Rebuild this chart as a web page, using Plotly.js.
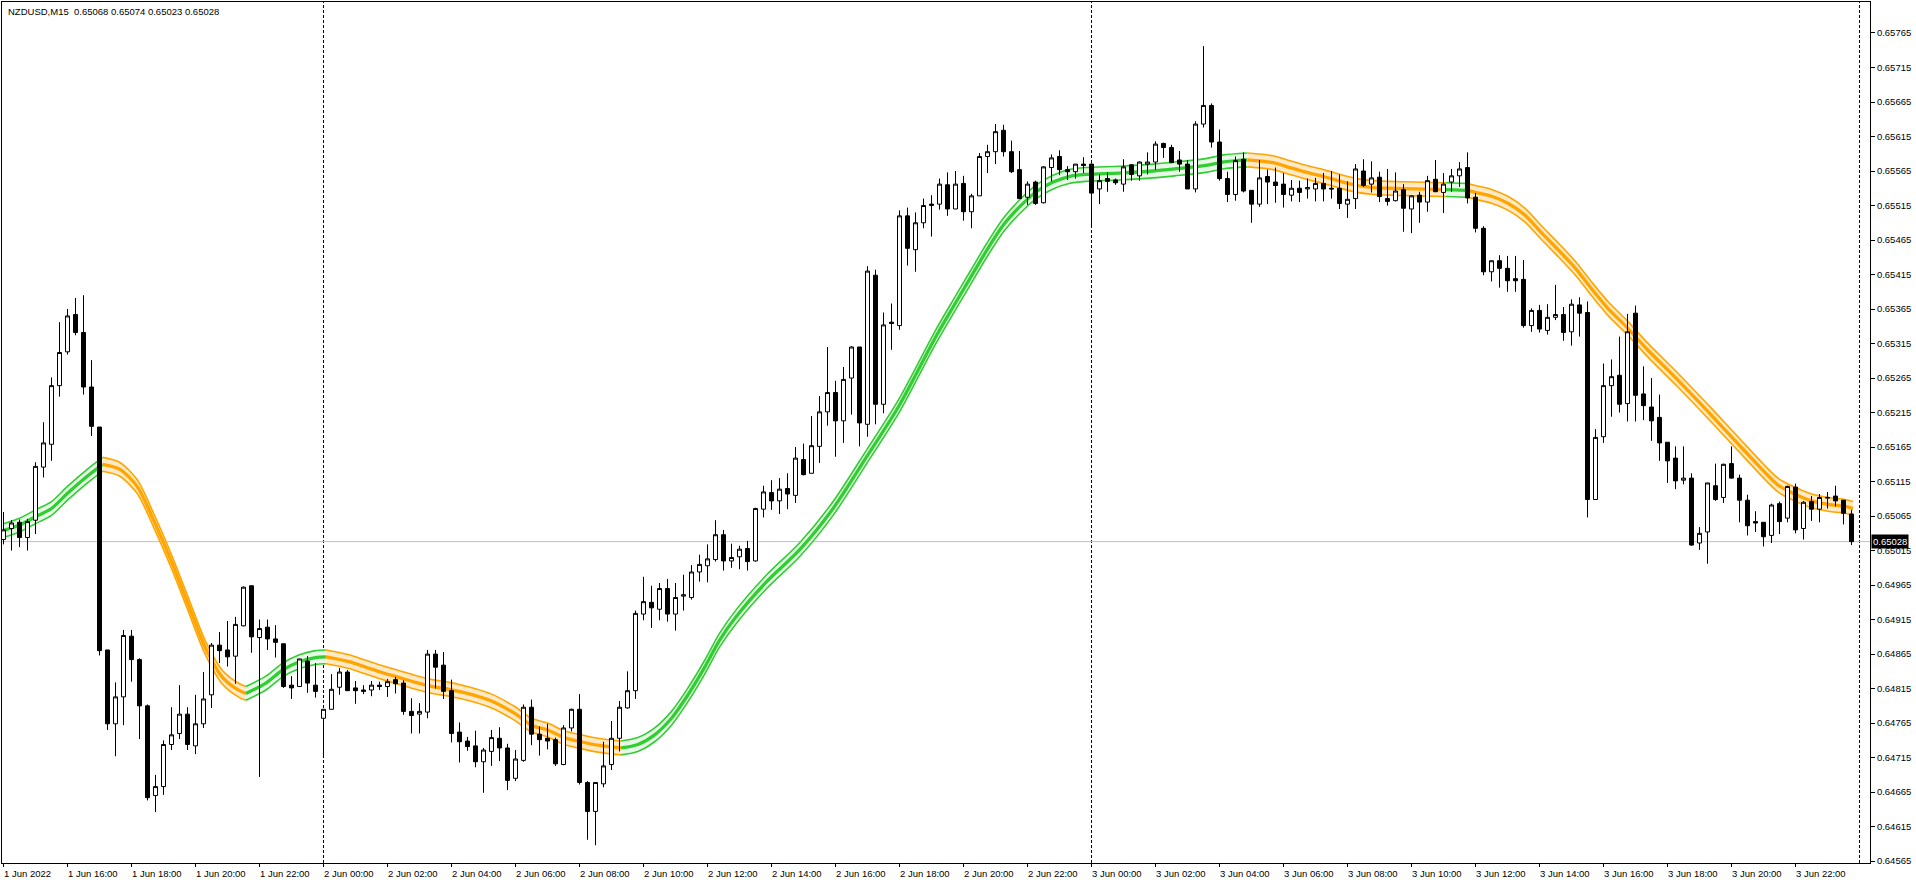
<!DOCTYPE html>
<html>
<head>
<meta charset="utf-8">
<script src="https://cdn.plot.ly/plotly-3.0.1.min.js"></script>
<style>
html,body{margin:0;padding:0;background:#ffffff;overflow:hidden;}
#chart{width:1916px;height:885px;}
</style>
</head>
<body>
<div id="chart"></div>
<script>
// ---------------- DATA ----------------
const symbol = 'NZDUSD';
const timeframe = 'M15';

// 15-minute bars from 1 Jun 2022 14:00 to 3 Jun 2022 23:45 (index 0..231)
const openP = [
0.65031,0.65047,0.65056,0.65034,0.65059,0.65136,0.65169,0.65254,0.65303,0.65357,
0.65331,0.65252,0.65194,0.64871,0.64764,0.64803,0.64891,0.64857,0.64790,0.64660,
0.64673,0.64734,0.64750,0.64778,0.64732,0.64764,0.64806,0.64878,0.64871,0.64862,
0.64906,0.64964,0.64889,0.64904,0.64887,0.64880,0.64820,0.64818,0.64855,0.64820,
0.64772,0.64785,0.64817,0.64839,0.64816,0.64813,0.64813,0.64820,0.64818,0.64828,
0.64823,0.64782,0.64778,0.64781,0.64865,0.64849,0.64812,0.64752,0.64739,0.64732,
0.64709,0.64724,0.64743,0.64729,0.64685,0.64711,0.64788,0.64749,0.64743,0.64741,
0.64705,0.64758,0.64785,0.64679,0.64637,0.64677,0.64705,0.64743,0.64787,0.64812,
0.64923,0.64940,0.64930,0.64960,0.64923,0.64949,0.64947,0.64984,0.64993,0.65002,
0.65038,0.65000,0.65006,0.65018,0.65000,0.65075,0.65099,0.65087,0.65105,0.65095,
0.65147,0.65127,0.65166,0.65216,0.65244,0.65203,0.65265,0.65310,0.65198,0.65414,
0.65227,0.65346,0.65341,0.65500,0.65451,0.65490,0.65515,0.65517,0.65545,0.65510,
0.65547,0.65506,0.65529,0.65586,0.65593,0.65624,0.65593,0.65567,0.65527,0.65549,
0.65519,0.65570,0.65586,0.65567,0.65564,0.65575,0.65575,0.65539,0.65554,0.65552,
0.65546,0.65574,0.65558,0.65575,0.65578,0.65605,0.65599,0.65581,0.65575,0.65539,
0.65633,0.65660,0.65607,0.65554,0.65531,0.65582,0.65537,0.65517,0.65557,0.65549,
0.65546,0.65530,0.65540,0.65539,0.65539,0.65547,0.65540,0.65540,0.65517,0.65525,
0.65565,0.65546,0.65556,0.65525,0.65522,0.65538,0.65510,0.65530,0.65520,0.65553,
0.65534,0.65549,0.65558,0.65570,0.65527,0.65482,0.65419,0.65435,0.65424,0.65409,
0.65408,0.65341,0.65363,0.65334,0.65353,0.65357,0.65332,0.65371,0.65360,0.65089,
0.65180,0.65254,0.65269,0.65228,0.65359,0.65242,0.65223,0.65208,0.65172,0.65149,
0.65117,0.65120,0.65026,0.65042,0.65109,0.65092,0.65141,0.65120,0.65088,0.65057,
0.65056,0.65037,0.65083,0.65062,0.65107,0.65047,0.65086,0.65075,0.65091,0.65094,
0.65088,0.65068
];
const highP = [
0.65071,0.65059,0.65060,0.65061,0.65143,0.65201,0.65266,0.65346,0.65365,0.65381,
0.65385,0.65291,0.65194,0.64871,0.64824,0.64900,0.64900,0.64859,0.64792,0.64690,
0.64740,0.64788,0.64820,0.64788,0.64806,0.64839,0.64881,0.64897,0.64913,0.64919,
0.64963,0.64965,0.64915,0.64915,0.64907,0.64880,0.64833,0.64858,0.64862,0.64852,
0.64785,0.64836,0.64845,0.64842,0.64826,0.64820,0.64826,0.64825,0.64829,0.64832,
0.64827,0.64801,0.64794,0.64871,0.64871,0.64868,0.64828,0.64766,0.64745,0.64754,
0.64729,0.64755,0.64759,0.64735,0.64726,0.64792,0.64799,0.64760,0.64764,0.64744,
0.64762,0.64786,0.64807,0.64681,0.64679,0.64738,0.64768,0.64797,0.64840,0.64928,
0.64977,0.64964,0.64968,0.64974,0.64968,0.64980,0.64994,0.65009,0.65024,0.65059,
0.65045,0.65025,0.65022,0.65029,0.65077,0.65109,0.65117,0.65120,0.65127,0.65165,
0.65170,0.65210,0.65239,0.65310,0.65261,0.65281,0.65311,0.65310,0.65427,0.65422,
0.65360,0.65373,0.65508,0.65512,0.65505,0.65525,0.65530,0.65554,0.65563,0.65565,
0.65558,0.65532,0.65591,0.65603,0.65633,0.65632,0.65609,0.65594,0.65550,0.65551,
0.65572,0.65589,0.65595,0.65572,0.65575,0.65585,0.65576,0.65560,0.65563,0.65554,
0.65582,0.65575,0.65579,0.65592,0.65608,0.65606,0.65603,0.65594,0.65581,0.65637,
0.65746,0.65663,0.65625,0.65564,0.65586,0.65592,0.65537,0.65581,0.65567,0.65570,
0.65562,0.65552,0.65551,0.65554,0.65555,0.65562,0.65565,0.65560,0.65550,0.65575,
0.65582,0.65579,0.65564,0.65568,0.65563,0.65546,0.65530,0.65535,0.65558,0.65581,
0.65562,0.65568,0.65578,0.65592,0.65533,0.65485,0.65435,0.65443,0.65442,0.65442,
0.65436,0.65366,0.65371,0.65372,0.65400,0.65368,0.65379,0.65382,0.65376,0.65191,
0.65286,0.65292,0.65325,0.65358,0.65370,0.65282,0.65265,0.65241,0.65172,0.65166,
0.65166,0.65127,0.65049,0.65113,0.65141,0.65141,0.65166,0.65125,0.65096,0.65072,
0.65056,0.65083,0.65086,0.65109,0.65112,0.65087,0.65094,0.65097,0.65100,0.65109,
0.65088,0.65074
];
const lowP = [
0.65024,0.65015,0.65020,0.65015,0.65039,0.65121,0.65145,0.65238,0.65299,0.65327,
0.65241,0.65181,0.64863,0.64755,0.64717,0.64762,0.64825,0.64742,0.64653,0.64636,
0.64661,0.64726,0.64742,0.64726,0.64720,0.64758,0.64787,0.64852,0.64847,0.64822,
0.64905,0.64867,0.64687,0.64871,0.64860,0.64816,0.64800,0.64818,0.64809,0.64802,
0.64718,0.64785,0.64806,0.64812,0.64793,0.64807,0.64804,0.64813,0.64803,0.64808,
0.64777,0.64750,0.64750,0.64772,0.64815,0.64800,0.64737,0.64708,0.64725,0.64701,
0.64664,0.64703,0.64710,0.64668,0.64681,0.64709,0.64733,0.64718,0.64727,0.64703,
0.64704,0.64753,0.64676,0.64596,0.64588,0.64672,0.64697,0.64724,0.64786,0.64800,
0.64914,0.64903,0.64914,0.64912,0.64899,0.64928,0.64944,0.64970,0.64969,0.64999,
0.64986,0.64990,0.64988,0.64986,0.64999,0.65063,0.65074,0.65068,0.65075,0.65084,
0.65124,0.65127,0.65142,0.65196,0.65151,0.65171,0.65212,0.65166,0.65180,0.65198,
0.65214,0.65306,0.65335,0.65428,0.65419,0.65482,0.65470,0.65509,0.65500,0.65510,
0.65493,0.65482,0.65529,0.65562,0.65575,0.65586,0.65562,0.65525,0.65516,0.65516,
0.65518,0.65550,0.65559,0.65552,0.65554,0.65562,0.65484,0.65517,0.65535,0.65545,
0.65535,0.65551,0.65551,0.65560,0.65567,0.65584,0.65577,0.65564,0.65539,0.65534,
0.65628,0.65599,0.65551,0.65520,0.65522,0.65534,0.65490,0.65513,0.65517,0.65519,
0.65512,0.65521,0.65520,0.65525,0.65521,0.65521,0.65525,0.65510,0.65497,0.65510,
0.65542,0.65534,0.65520,0.65515,0.65521,0.65477,0.65475,0.65490,0.65506,0.65535,
0.65504,0.65535,0.65542,0.65518,0.65476,0.65414,0.65405,0.65396,0.65390,0.65390,
0.65338,0.65332,0.65331,0.65328,0.65349,0.65319,0.65312,0.65325,0.65063,0.65089,
0.65171,0.65209,0.65215,0.65202,0.65202,0.65204,0.65174,0.65145,0.65113,0.65104,
0.65111,0.65022,0.65016,0.64996,0.65087,0.65084,0.65119,0.65056,0.65037,0.65042,
0.65021,0.65026,0.65039,0.65056,0.65040,0.65031,0.65058,0.65056,0.65076,0.65079,
0.65053,0.65023
];
const closeP = [
0.65045,0.65055,0.65034,0.65057,0.65137,0.65171,0.65254,0.65302,0.65355,0.65331,
0.65252,0.65195,0.64870,0.64764,0.64803,0.64892,0.64857,0.64790,0.64657,0.64673,
0.64734,0.64748,0.64778,0.64734,0.64764,0.64800,0.64878,0.64870,0.64861,0.64908,
0.64962,0.64890,0.64902,0.64887,0.64882,0.64818,0.64816,0.64858,0.64823,0.64811,
0.64785,0.64814,0.64839,0.64812,0.64812,0.64811,0.64820,0.64818,0.64825,0.64822,
0.64782,0.64776,0.64782,0.64865,0.64846,0.64811,0.64750,0.64738,0.64731,0.64709,
0.64726,0.64744,0.64729,0.64682,0.64713,0.64788,0.64749,0.64741,0.64739,0.64706,
0.64758,0.64785,0.64679,0.64637,0.64679,0.64703,0.64743,0.64788,0.64812,0.64924,
0.64941,0.64932,0.64960,0.64923,0.64947,0.64951,0.64984,0.64995,0.65003,0.65038,
0.65000,0.65005,0.65017,0.64999,0.65076,0.65100,0.65087,0.65104,0.65097,0.65149,
0.65125,0.65167,0.65216,0.65244,0.65203,0.65263,0.65310,0.65200,0.65420,0.65227,
0.65342,0.65344,0.65500,0.65453,0.65490,0.65515,0.65517,0.65546,0.65510,0.65546,
0.65506,0.65529,0.65586,0.65593,0.65622,0.65593,0.65564,0.65525,0.65546,0.65518,
0.65571,0.65584,0.65567,0.65564,0.65575,0.65573,0.65533,0.65551,0.65550,0.65548,
0.65571,0.65560,0.65578,0.65578,0.65604,0.65599,0.65577,0.65575,0.65539,0.65633,
0.65660,0.65607,0.65554,0.65531,0.65580,0.65536,0.65517,0.65555,0.65549,0.65544,
0.65531,0.65540,0.65534,0.65541,0.65547,0.65539,0.65539,0.65518,0.65524,0.65568,
0.65544,0.65555,0.65528,0.65521,0.65536,0.65511,0.65529,0.65520,0.65551,0.65535,
0.65546,0.65558,0.65568,0.65526,0.65482,0.65419,0.65435,0.65424,0.65406,0.65406,
0.65341,0.65363,0.65336,0.65353,0.65357,0.65331,0.65372,0.65359,0.65089,0.65179,
0.65254,0.65267,0.65227,0.65332,0.65240,0.65225,0.65203,0.65171,0.65145,0.65116,
0.65120,0.65023,0.65040,0.65113,0.65089,0.65140,0.65120,0.65088,0.65051,0.65055,
0.65035,0.65081,0.65057,0.65108,0.65045,0.65085,0.65075,0.65092,0.65092,0.65087,
0.65069,0.65028
];

// Time axis labels (every 8 bars = 2 hours)
const tickBars = [0,8,16,24,32,40,48,56,64,72,80,88,96,104,112,120,128,136,144,152,160,168,176,184,192,200,208,216,224];
const tickLabels = ['1 Jun 2022','1 Jun 16:00','1 Jun 18:00','1 Jun 20:00','1 Jun 22:00',
  '2 Jun 00:00','2 Jun 02:00','2 Jun 04:00','2 Jun 06:00','2 Jun 08:00','2 Jun 10:00','2 Jun 12:00',
  '2 Jun 14:00','2 Jun 16:00','2 Jun 18:00','2 Jun 20:00','2 Jun 22:00',
  '3 Jun 00:00','3 Jun 02:00','3 Jun 04:00','3 Jun 06:00','3 Jun 08:00','3 Jun 10:00','3 Jun 12:00',
  '3 Jun 14:00','3 Jun 16:00','3 Jun 18:00','3 Jun 20:00','3 Jun 22:00'];
const daySeparatorBars = [40, 136, 232];

// Price axis ticks
const priceTicks = [0.65765,0.65715,0.65665,0.65615,0.65565,0.65515,0.65465,0.65415,0.65365,0.65315,
  0.65265,0.65215,0.65165,0.65115,0.65065,0.65015,0.64965,0.64915,0.64865,0.64815,0.64765,0.64715,
  0.64665,0.64615,0.64565];

// Smoothed moving-average band (centre values)
const maBars = [0,2,4,6,8,10.5,12.4,14.5,16.7,18.8,21,23,25.2,27.4,29.5,30.3,32.8,34.9,37,39,40.3,
  43.2,45.3,47.4,49.5,51.5,53.6,55.7,58,61,63.9,66,68,70.1,72.2,74.3,77.2,79.3,81.4,83.5,85.5,87.6,
  89.5,91.5,95.4,99.5,103.7,107.9,112,116.4,118.7,120.8,122.9,125,127,129.1,131.2,133.2,135.3,139.5,
  143.7,146.4,150.3,152.4,155.5,158.7,160.8,162.9,165,167.1,169.2,171.3,173.3,176.3,180.3,183,184,
  186.1,188.1,190.2,192.3,194.4,196.5,198.6,200.7,202.8,205.5,209.3,213.5,217.6,221.8,223.9,226,
  228.1,230.2,231.2];
const maValues = [0.65044,0.65052,0.65064,0.65076,0.65098,0.65123,0.65140,0.65133,0.65108,0.65058,
  0.64999,0.64940,0.64875,0.64831,0.64812,0.64808,0.64823,0.64842,0.64854,0.64860,0.64861,
  0.64854,0.64846,0.64838,0.64831,0.64824,0.64818,0.64814,0.64808,0.64797,0.64779,0.64762,0.64755,
  0.64744,0.64738,0.64733,0.64729,0.64734,0.64748,0.64772,0.64805,0.64845,
  0.64885,0.64918,0.64970,0.65016,0.65076,0.65151,0.65226,0.65322,0.65368,0.65409,0.65450,0.65487,
  0.65513,0.65535,0.65549,0.65557,0.65560,0.65562,
  0.65565,0.65568,0.65573,0.65578,0.65581,0.65577,0.65570,0.65563,0.65557,0.65550,0.65544,0.65541,
  0.65540,0.65539,0.65538,0.65537,0.65534,
  0.65528,0.65518,0.65501,0.65475,0.65450,0.65424,0.65393,0.65364,0.65340,0.65306,0.65262,0.65211,
  0.65160,0.65110,0.65097,0.65087,0.65082,0.65079,0.65076];
// bars where the band changes colour; first segment is rising (green)
const maTurnBars = [12.4, 30.3, 40.3, 77.2, 155.5, 180.3, 183];

// ---------------- STYLE ----------------
const FONT = 'Liberation Sans, Arial, sans-serif';
const FONT_SIZE = 9.5;
const BAND_HALF = 0.0001;
const UP_LINE = '#32CD32', UP_FILL = '#E6F9E6';
const DN_LINE = '#FFA500', DN_FILL = '#FFE9C6';
const X_RANGE = [-0.1875, 233.3125];
const Y_RANGE = [0.645623, 0.658099];

const bars = closeP.map((_, i) => i);
const nLast = closeP.length - 1;
const lastClose = closeP[nLast];

// ---------------- TRACES ----------------
const traces = [];
const edges = [maBars[0]].concat(maTurnBars, [maBars[maBars.length - 1]]);
for (let s = 0; s < edges.length - 1; s++) {
  const a = edges[s], b = edges[s + 1];
  const rising = (s % 2 === 0);
  const lc = rising ? UP_LINE : DN_LINE;
  const fc = rising ? UP_FILL : DN_FILL;
  const sx = [], sy = [];
  maBars.forEach((bx, k) => { if (bx >= a && bx <= b) { sx.push(bx); sy.push(maValues[k]); } });
  const common = {type: 'scatter', mode: 'lines', x: sx, xaxis: 'x', yaxis: 'y', hoverinfo: 'skip', showlegend: false};
  traces.push(Object.assign({}, common, {y: sy.map(v => v - BAND_HALF), line: {color: lc, width: 1.6, shape: 'spline', smoothing: 0.8}}));
  traces.push(Object.assign({}, common, {y: sy.map(v => v + BAND_HALF), fill: 'tonexty', fillcolor: fc, line: {color: lc, width: 1.6, shape: 'spline', smoothing: 0.8}}));
  traces.push(Object.assign({}, common, {y: sy, line: {color: lc, width: 3.3, shape: 'spline', smoothing: 0.8}}));
}

traces.push({
  type: 'candlestick',
  x: bars, open: openP, high: highP, low: lowP, close: closeP,
  xaxis: 'x2', yaxis: 'y2',
  increasing: {line: {color: '#000000', width: 1}, fillcolor: '#ffffff'},
  decreasing: {line: {color: '#000000', width: 1}, fillcolor: '#000000'},
  whiskerwidth: 0, hoverinfo: 'skip', showlegend: false
});

// ---------------- LAYOUT ----------------
const annotations = tickBars.map((bx, i) => ({
  x: bx, xref: 'x', y: 0, yref: 'paper', xanchor: 'left', yanchor: 'top',
  xshift: -2, yshift: -3, showarrow: false, text: tickLabels[i],
  font: {family: FONT, size: FONT_SIZE, color: '#000000'}
}));
annotations.push({
  x: 0, xref: 'paper', y: 1, yref: 'paper', xanchor: 'left', yanchor: 'top',
  xshift: 4, yshift: -2, showarrow: false,
  text: symbol + ',' + timeframe + '\u00a0 ' + [openP[nLast], highP[nLast], lowP[nLast], closeP[nLast]].map(v => v.toFixed(5)).join(' '),
  font: {family: FONT, size: FONT_SIZE, color: '#000000'}
});
annotations.push({
  x: 1, xref: 'paper', y: lastClose, yref: 'y', xanchor: 'left', yanchor: 'middle',
  xshift: 1, showarrow: false, text: lastClose.toFixed(5),
  bgcolor: '#000000', borderpad: 1,
  font: {family: FONT, size: FONT_SIZE, color: '#ffffff'}
});

const shapes = daySeparatorBars.map(bx => ({
  type: 'line', xref: 'x', x0: bx, x1: bx, yref: 'paper', y0: 0, y1: 1, layer: 'below',
  line: {color: '#000000', width: 1, dash: '3px,2px'}
}));
shapes.push({
  type: 'line', xref: 'paper', x0: 0, x1: 1, yref: 'y', y0: lastClose, y1: lastClose, layer: 'below',
  line: {color: '#C0C0C0', width: 1}
});

const layout = {
  width: 1916, height: 885,
  margin: {l: 2, r: 46, t: 2, b: 22, pad: 0},
  paper_bgcolor: '#ffffff', plot_bgcolor: '#ffffff',
  showlegend: false, hovermode: false,
  boxgap: 0.5, boxgroupgap: 0,
  xaxis: {
    range: X_RANGE, showgrid: false, zeroline: false,
    showline: true, mirror: true, linecolor: '#000000', linewidth: 1,
    ticks: 'outside', ticklen: 3, tickcolor: '#000000', tickwidth: 1,
    tickmode: 'array', tickvals: tickBars, showticklabels: false,
    rangeslider: {visible: false}, fixedrange: true
  },
  yaxis: {
    range: Y_RANGE, side: 'right', showgrid: false, zeroline: false,
    showline: true, mirror: true, linecolor: '#000000', linewidth: 1,
    ticks: 'outside', ticklen: 4, tickcolor: '#000000', tickwidth: 1,
    tickmode: 'array', tickvals: priceTicks, ticktext: priceTicks.map(v => v.toFixed(5)),
    tickfont: {family: FONT, size: FONT_SIZE, color: '#000000'}, fixedrange: true
  },
  xaxis2: {overlaying: 'x', range: X_RANGE, visible: false, rangeslider: {visible: false}, fixedrange: true},
  yaxis2: {overlaying: 'y', range: Y_RANGE, visible: false, fixedrange: true},
  annotations: annotations,
  shapes: shapes
};

Plotly.newPlot('chart', traces, layout, {displayModeBar: false, staticPlot: true});
</script>
</body>
</html>
